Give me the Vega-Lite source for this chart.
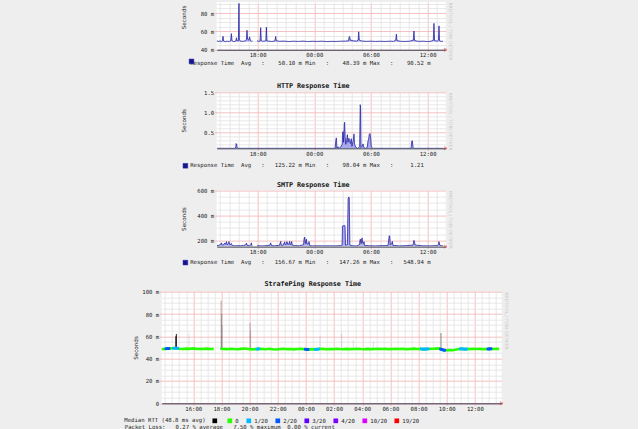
{
 "$schema": "https://vega.github.io/schema/vega-lite/v6.json",
 "background": "#eeeeee",
 "padding": {"left": 121.7, "top": 0, "right": 129, "bottom": 0},
 "spacing": 13.7,
 "resolve": {"scale": {"color": "independent", "opacity": "independent"}, "legend": {"color": "independent", "opacity": "independent"}},
 "config": {
  "view": {"stroke": null, "fill": "white"},
  "axis": {"labelFont": "DejaVu Sans Mono", "labelFontSize": 5.65, "labelColor": "#222", "titleFont": "DejaVu Sans", "titleFontSize": 5.65, "titleFontWeight": "normal", "titleColor": "#222", "gridWidth": 0.8, "labelFlush": false},
  "legend": {"labelFont": "DejaVu Sans Mono", "labelFontSize": 5.65, "titleFont": "DejaVu Sans Mono", "titleFontSize": 5.65},
  "title": {"font": "DejaVu Sans Mono", "fontSize": 6.7, "fontWeight": "bold", "color": "#111", "frame": "group", "anchor": "middle", "offset": 1}
 },
 "datasets": {
  "p1": [
   {"h":13.66,"v":49.6,"seg":1},{"h":13.85,"v":49.1,"seg":1},{"h":14.0,"v":49.5,"seg":1},{"h":14.2,"v":49.0,"seg":1},{"h":14.27,"v":50.0,"seg":1},{"h":14.33,"v":54.6,"seg":1},{"h":14.39,"v":49.5,"seg":1},{"h":14.6,"v":48.8,"seg":1},{"h":14.8,"v":49.3,"seg":1},{"h":15.0,"v":49.0,"seg":1},{"h":15.14,"v":49.7,"seg":1},{"h":15.22,"v":57.5,"seg":1},{"h":15.28,"v":50.0,"seg":1},{"h":15.45,"v":48.9,"seg":1},{"h":15.6,"v":49.1,"seg":1},{"h":15.7,"v":49.8,"seg":1},{"h":15.75,"v":53.0,"seg":1},{"h":15.82,"v":49.5,"seg":1},{"h":15.96,"v":50.0,"seg":1},{"h":16.0,"v":80.0,"seg":1},{"h":16.02,"v":90.5,"seg":1},{"h":16.06,"v":51.5,"seg":1},{"h":16.15,"v":49.5,"seg":1},{"h":16.3,"v":49.1,"seg":1},{"h":16.5,"v":49.3,"seg":1},{"h":16.7,"v":49.7,"seg":1},{"h":16.8,"v":50.5,"seg":1},{"h":16.87,"v":61.2,"seg":1},{"h":16.93,"v":51.5,"seg":1},{"h":17.05,"v":50.5,"seg":1},{"h":17.15,"v":54.0,"seg":1},{"h":17.22,"v":50.0,"seg":1},{"h":17.35,"v":49.3,"seg":1},{"h":17.44,"v":49.5,"seg":1},
   {"h":17.93,"v":49.7,"seg":2},{"h":18.1,"v":49.1,"seg":2},{"h":18.25,"v":49.5,"seg":2},{"h":18.32,"v":64.0,"seg":2},{"h":18.38,"v":49.8,"seg":2},{"h":18.55,"v":49.2,"seg":2},{"h":18.75,"v":49.5,"seg":2},{"h":18.86,"v":49.7,"seg":2},{"h":18.92,"v":64.5,"seg":2},{"h":18.98,"v":49.6,"seg":2},{"h":19.2,"v":49.3,"seg":2},{"h":19.5,"v":49.0,"seg":2},{"h":19.82,"v":49.5,"seg":2},{"h":19.91,"v":54.5,"seg":2},{"h":19.97,"v":49.8,"seg":2},{"h":20.3,"v":49.2,"seg":2},{"h":20.8,"v":49.4,"seg":2},{"h":21.3,"v":48.9,"seg":2},{"h":21.8,"v":49.3,"seg":2},{"h":22.3,"v":49.0,"seg":2},{"h":22.8,"v":49.4,"seg":2},{"h":23.3,"v":48.9,"seg":2},{"h":23.8,"v":49.2,"seg":2},{"h":24.3,"v":49.0,"seg":2},{"h":24.8,"v":49.3,"seg":2},{"h":25.3,"v":48.9,"seg":2},{"h":25.8,"v":49.1,"seg":2},{"h":26.3,"v":49.0,"seg":2},{"h":26.8,"v":49.3,"seg":2},{"h":27.3,"v":49.4,"seg":2},{"h":27.62,"v":49.7,"seg":2},{"h":27.68,"v":53.5,"seg":2},{"h":27.74,"v":54.5,"seg":2},{"h":27.8,"v":50.5,"seg":2},{"h":28.1,"v":49.7,"seg":2},{"h":28.5,"v":49.4,"seg":2},{"h":28.64,"v":50.5,"seg":2},{"h":28.7,"v":59.5,"seg":2},{"h":28.76,"v":50.5,"seg":2},{"h":29.0,"v":49.5,"seg":2},{"h":29.5,"v":49.1,"seg":2},{"h":30.0,"v":49.3,"seg":2},{"h":30.5,"v":49.0,"seg":2},{"h":31.0,"v":49.2,"seg":2},{"h":31.5,"v":49.0,"seg":2},{"h":32.0,"v":49.3,"seg":2},{"h":32.4,"v":49.1,"seg":2},{"h":32.62,"v":50.5,"seg":2},{"h":32.69,"v":57.0,"seg":2},{"h":32.75,"v":50.0,"seg":2},{"h":33.1,"v":49.2,"seg":2},{"h":33.6,"v":49.0,"seg":2},{"h":34.1,"v":49.3,"seg":2},{"h":34.48,"v":50.5,"seg":2},{"h":34.55,"v":60.4,"seg":2},{"h":34.61,"v":50.0,"seg":2},{"h":35.0,"v":49.1,"seg":2},{"h":35.5,"v":49.3,"seg":2},{"h":36.0,"v":48.9,"seg":2},{"h":36.35,"v":49.2,"seg":2},{"h":36.6,"v":50.5,"seg":2},{"h":36.67,"v":68.7,"seg":2},{"h":36.73,"v":50.0,"seg":2},{"h":37.0,"v":49.3,"seg":2},{"h":37.14,"v":50.5,"seg":2},{"h":37.2,"v":66.0,"seg":2},{"h":37.26,"v":49.7,"seg":2},{"h":37.45,"v":49.1,"seg":2},{"h":37.62,"v":49.3,"seg":2}
  ],
  "p2": [
   {"h":13.66,"v":0.1},{"h":15.6,"v":0.1},{"h":15.68,"v":0.13},{"h":15.72,"v":0.22},{"h":15.78,"v":0.2},{"h":15.82,"v":0.11},{"h":15.95,"v":0.1},{"h":26.2,"v":0.1},{"h":26.28,"v":0.3},{"h":26.33,"v":0.36},{"h":26.39,"v":0.1},{"h":26.5,"v":0.14},{"h":26.6,"v":0.1},{"h":26.75,"v":0.12},{"h":26.95,"v":0.2},{"h":27.0,"v":0.5},{"h":27.05,"v":0.52},{"h":27.1,"v":0.25},{"h":27.17,"v":0.7},{"h":27.21,"v":0.75},{"h":27.26,"v":0.4},{"h":27.33,"v":0.2},{"h":27.42,"v":0.3},{"h":27.5,"v":0.44},{"h":27.56,"v":0.25},{"h":27.66,"v":0.35},{"h":27.74,"v":0.3},{"h":27.82,"v":0.22},{"h":27.92,"v":0.34},{"h":27.98,"v":0.15},{"h":28.12,"v":0.3},{"h":28.2,"v":0.46},{"h":28.26,"v":0.2},{"h":28.4,"v":0.12},{"h":28.6,"v":0.1},{"h":28.8,"v":0.14},{"h":28.86,"v":1.19},{"h":28.9,"v":1.1},{"h":28.94,"v":0.12},{"h":29.05,"v":0.15},{"h":29.15,"v":0.21},{"h":29.25,"v":0.12},{"h":29.4,"v":0.1},{"h":29.6,"v":0.12},{"h":29.68,"v":0.28},{"h":29.75,"v":0.33},{"h":29.82,"v":0.45},{"h":29.89,"v":0.47},{"h":29.96,"v":0.38},{"h":30.03,"v":0.15},{"h":30.15,"v":0.1},{"h":34.25,"v":0.1},{"h":34.32,"v":0.28},{"h":34.38,"v":0.29},{"h":34.45,"v":0.12},{"h":34.55,"v":0.1},{"h":37.62,"v":0.1}
  ],
  "p3": [
   {"h":13.66,"v":158,"seg":1},{"h":13.9,"v":160,"seg":1},{"h":14.1,"v":170,"seg":1},{"h":14.16,"v":180,"seg":1},{"h":14.24,"v":162,"seg":1},{"h":14.4,"v":165,"seg":1},{"h":14.5,"v":178,"seg":1},{"h":14.6,"v":168,"seg":1},{"h":14.69,"v":190,"seg":1},{"h":14.78,"v":165,"seg":1},{"h":14.9,"v":175,"seg":1},{"h":14.96,"v":190,"seg":1},{"h":15.04,"v":165,"seg":1},{"h":15.15,"v":170,"seg":1},{"h":15.22,"v":175,"seg":1},{"h":15.3,"v":158,"seg":1},{"h":15.6,"v":156,"seg":1},{"h":15.9,"v":158,"seg":1},{"h":16.2,"v":157,"seg":1},{"h":16.5,"v":160,"seg":1},{"h":16.75,"v":165,"seg":1},{"h":16.82,"v":178,"seg":1},{"h":16.88,"v":160,"seg":1},{"h":17.1,"v":157,"seg":1},{"h":17.28,"v":165,"seg":1},{"h":17.33,"v":180,"seg":1},{"h":17.39,"v":158,"seg":1},{"h":17.44,"v":156,"seg":1},
   {"h":17.93,"v":157,"seg":2},{"h":18.5,"v":156,"seg":2},{"h":19.0,"v":158,"seg":2},{"h":19.3,"v":162,"seg":2},{"h":19.38,"v":180,"seg":2},{"h":19.45,"v":158,"seg":2},{"h":19.8,"v":157,"seg":2},{"h":20.3,"v":160,"seg":2},{"h":20.44,"v":192,"seg":2},{"h":20.5,"v":160,"seg":2},{"h":20.7,"v":162,"seg":2},{"h":20.86,"v":188,"seg":2},{"h":20.92,"v":165,"seg":2},{"h":21.02,"v":170,"seg":2},{"h":21.1,"v":190,"seg":2},{"h":21.18,"v":168,"seg":2},{"h":21.32,"v":172,"seg":2},{"h":21.39,"v":192,"seg":2},{"h":21.45,"v":165,"seg":2},{"h":21.55,"v":175,"seg":2},{"h":21.6,"v":190,"seg":2},{"h":21.66,"v":162,"seg":2},{"h":21.9,"v":158,"seg":2},{"h":22.4,"v":157,"seg":2},{"h":22.85,"v":165,"seg":2},{"h":22.93,"v":220,"seg":2},{"h":22.98,"v":227,"seg":2},{"h":23.05,"v":175,"seg":2},{"h":23.1,"v":190,"seg":2},{"h":23.16,"v":210,"seg":2},{"h":23.22,"v":170,"seg":2},{"h":23.38,"v":175,"seg":2},{"h":23.44,"v":190,"seg":2},{"h":23.5,"v":158,"seg":2},{"h":23.8,"v":156,"seg":2},{"h":24.4,"v":157,"seg":2},{"h":25.0,"v":156,"seg":2},{"h":25.6,"v":157,"seg":2},{"h":26.2,"v":156,"seg":2},{"h":26.8,"v":158,"seg":2},{"h":26.94,"v":162,"seg":2},{"h":26.98,"v":315,"seg":2},{"h":27.2,"v":320,"seg":2},{"h":27.25,"v":318,"seg":2},{"h":27.3,"v":162,"seg":2},{"h":27.5,"v":165,"seg":2},{"h":27.58,"v":535,"seg":2},{"h":27.64,"v":549,"seg":2},{"h":27.7,"v":540,"seg":2},{"h":27.76,"v":162,"seg":2},{"h":28.0,"v":157,"seg":2},{"h":28.5,"v":156,"seg":2},{"h":28.78,"v":165,"seg":2},{"h":28.84,"v":205,"seg":2},{"h":28.88,"v":210,"seg":2},{"h":28.95,"v":175,"seg":2},{"h":29.05,"v":220,"seg":2},{"h":29.12,"v":180,"seg":2},{"h":29.2,"v":175,"seg":2},{"h":29.26,"v":190,"seg":2},{"h":29.32,"v":160,"seg":2},{"h":29.8,"v":157,"seg":2},{"h":30.5,"v":156,"seg":2},{"h":31.2,"v":158,"seg":2},{"h":31.8,"v":158,"seg":2},{"h":31.93,"v":238,"seg":2},{"h":31.98,"v":235,"seg":2},{"h":32.05,"v":165,"seg":2},{"h":32.2,"v":175,"seg":2},{"h":32.26,"v":192,"seg":2},{"h":32.32,"v":160,"seg":2},{"h":33.0,"v":156,"seg":2},{"h":33.8,"v":158,"seg":2},{"h":34.45,"v":162,"seg":2},{"h":34.55,"v":200,"seg":2},{"h":34.6,"v":188,"seg":2},{"h":34.68,"v":162,"seg":2},{"h":35.4,"v":157,"seg":2},{"h":36.2,"v":156,"seg":2},{"h":37.0,"v":158,"seg":2},{"h":37.15,"v":165,"seg":2},{"h":37.2,"v":190,"seg":2},{"h":37.26,"v":162,"seg":2},{"h":37.5,"v":157,"seg":2},{"h":37.62,"v":156,"seg":2}
  ],
  "p4med": [
   {"h":13.77,"v":48.5,"seg":1},{"h":14.0,"v":48.8,"seg":1},{"h":14.25,"v":49.0,"seg":1},{"h":14.5,"v":49.3,"seg":1},{"h":14.75,"v":49.5,"seg":1},{"h":15.0,"v":48.9,"seg":1},{"h":15.25,"v":48.6,"seg":1},{"h":15.5,"v":49.0,"seg":1},{"h":15.75,"v":48.8,"seg":1},{"h":16.0,"v":49.2,"seg":1},{"h":16.25,"v":48.7,"seg":1},{"h":16.5,"v":48.9,"seg":1},{"h":16.75,"v":48.6,"seg":1},{"h":17.0,"v":49.0,"seg":1},{"h":17.25,"v":48.7,"seg":1},{"h":17.45,"v":48.8,"seg":1},
   {"h":17.92,"v":49.0,"seg":2},{"h":18.15,"v":48.7,"seg":2},{"h":18.4,"v":48.5,"seg":2},{"h":18.65,"v":48.9,"seg":2},{"h":18.9,"v":48.6,"seg":2},{"h":19.15,"v":48.4,"seg":2},{"h":19.4,"v":48.8,"seg":2},{"h":19.65,"v":49.1,"seg":2},{"h":19.9,"v":48.7,"seg":2},{"h":20.15,"v":48.3,"seg":2},{"h":20.4,"v":48.5,"seg":2},{"h":20.65,"v":48.8,"seg":2},{"h":20.9,"v":48.6,"seg":2},{"h":21.15,"v":48.4,"seg":2},{"h":21.4,"v":48.9,"seg":2},{"h":21.65,"v":48.5,"seg":2},{"h":21.9,"v":48.2,"seg":2},{"h":22.15,"v":48.6,"seg":2},{"h":22.4,"v":48.9,"seg":2},{"h":22.65,"v":48.5,"seg":2},{"h":22.9,"v":48.7,"seg":2},{"h":23.15,"v":48.3,"seg":2},{"h":23.4,"v":48.6,"seg":2},{"h":23.65,"v":48.8,"seg":2},{"h":23.9,"v":48.5,"seg":2},{"h":24.15,"v":48.2,"seg":2},{"h":24.4,"v":48.5,"seg":2},{"h":24.65,"v":48.3,"seg":2},{"h":24.9,"v":48.6,"seg":2},{"h":25.15,"v":48.8,"seg":2},{"h":25.4,"v":48.4,"seg":2},{"h":25.65,"v":48.7,"seg":2},{"h":25.9,"v":48.5,"seg":2},{"h":26.15,"v":48.9,"seg":2},{"h":26.4,"v":48.6,"seg":2},{"h":26.65,"v":48.4,"seg":2},{"h":26.9,"v":48.8,"seg":2},{"h":27.15,"v":48.5,"seg":2},{"h":27.4,"v":48.7,"seg":2},{"h":27.65,"v":48.9,"seg":2},{"h":27.9,"v":48.6,"seg":2},{"h":28.15,"v":48.4,"seg":2},{"h":28.4,"v":48.8,"seg":2},{"h":28.65,"v":48.5,"seg":2},{"h":28.9,"v":48.7,"seg":2},{"h":29.15,"v":48.9,"seg":2},{"h":29.4,"v":48.6,"seg":2},{"h":29.65,"v":48.8,"seg":2},{"h":29.9,"v":48.5,"seg":2},{"h":30.15,"v":48.7,"seg":2},{"h":30.4,"v":48.9,"seg":2},{"h":30.65,"v":48.6,"seg":2},{"h":30.9,"v":48.8,"seg":2},{"h":31.15,"v":48.5,"seg":2},{"h":31.4,"v":48.7,"seg":2},{"h":31.65,"v":49.0,"seg":2},{"h":31.9,"v":48.6,"seg":2},{"h":32.15,"v":48.8,"seg":2},{"h":32.4,"v":48.5,"seg":2},{"h":32.65,"v":48.7,"seg":2},{"h":32.9,"v":48.9,"seg":2},{"h":33.15,"v":49.0,"seg":2},{"h":33.4,"v":49.2,"seg":2},{"h":33.6,"v":48.4,"seg":2},{"h":33.8,"v":47.6,"seg":2},{"h":34.0,"v":47.5,"seg":2},{"h":34.2,"v":47.7,"seg":2},{"h":34.4,"v":47.6,"seg":2},{"h":34.6,"v":48.0,"seg":2},{"h":34.85,"v":48.6,"seg":2},{"h":35.1,"v":48.8,"seg":2},{"h":35.35,"v":48.5,"seg":2},{"h":35.6,"v":48.7,"seg":2},{"h":35.85,"v":48.9,"seg":2},{"h":36.1,"v":48.6,"seg":2},{"h":36.35,"v":48.8,"seg":2},{"h":36.6,"v":48.5,"seg":2},{"h":36.85,"v":48.6,"seg":2},{"h":37.1,"v":48.9,"seg":2},{"h":37.35,"v":48.7,"seg":2},{"h":37.55,"v":48.8,"seg":2},{"h":37.71,"v":48.6,"seg":2}
  ],
  "p4smoke": [
   {"h":14.76,"lo":49,"hi":60,"n":0.9},{"h":14.8,"lo":49,"hi":62,"n":1.0},{"h":15.7,"lo":49,"hi":63,"n":0.12},{"h":17.98,"lo":49,"hi":92,"n":0.35},{"h":18.02,"lo":49,"hi":80,"n":0.3},{"h":18.06,"lo":49,"hi":70,"n":0.2},{"h":20.03,"lo":49,"hi":72,"n":0.3},{"h":20.08,"lo":49,"hi":65,"n":0.2},{"h":25.0,"lo":49,"hi":60,"n":0.12},{"h":26.54,"lo":49,"hi":63,"n":0.15},{"h":27.36,"lo":49,"hi":57,"n":0.15},{"h":28.78,"lo":49,"hi":55,"n":0.15},{"h":33.59,"lo":49,"hi":63,"n":0.5}
  ],
  "p4loss": [
   {"h":14.06,"v":48.9,"loss":"2/20"},{"h":14.14,"v":48.95,"loss":"2/20"},{"h":14.22,"v":49.0,"loss":"2/20"},{"h":14.28,"v":49.1,"loss":"2/20"},
   {"h":14.6,"v":49.3,"loss":"1/20"},{"h":14.68,"v":49.4,"loss":"1/20"},{"h":14.76,"v":49.5,"loss":"1/20"},{"h":14.84,"v":49.4,"loss":"1/20"},{"h":14.9,"v":49.3,"loss":"1/20"},
   {"h":20.52,"v":48.6,"loss":"1/20"},{"h":20.6,"v":48.7,"loss":"1/20"},{"h":20.66,"v":48.8,"loss":"1/20"},
   {"h":23.95,"v":48.5,"loss":"2/20"},{"h":24.03,"v":48.4,"loss":"2/20"},{"h":24.11,"v":48.3,"loss":"2/20"},{"h":24.15,"v":48.2,"loss":"2/20"},
   {"h":24.66,"v":48.3,"loss":"1/20"},{"h":24.74,"v":48.4,"loss":"1/20"},{"h":24.82,"v":48.5,"loss":"1/20"},{"h":24.9,"v":48.6,"loss":"1/20"},
   {"h":32.2,"v":48.7,"loss":"1/20"},{"h":32.28,"v":48.6,"loss":"1/20"},{"h":32.36,"v":48.5,"loss":"1/20"},{"h":32.44,"v":48.6,"loss":"1/20"},{"h":32.52,"v":48.6,"loss":"1/20"},{"h":32.6,"v":48.7,"loss":"1/20"},{"h":32.68,"v":48.7,"loss":"1/20"},
   {"h":33.56,"v":48.6,"loss":"2/20"},{"h":33.64,"v":48.2,"loss":"2/20"},{"h":33.72,"v":47.9,"loss":"2/20"},{"h":33.8,"v":47.6,"loss":"2/20"},{"h":33.86,"v":47.6,"loss":"2/20"},
   {"h":34.96,"v":48.7,"loss":"1/20"},{"h":35.04,"v":48.8,"loss":"1/20"},{"h":35.12,"v":48.7,"loss":"1/20"},{"h":35.2,"v":48.6,"loss":"1/20"},{"h":35.28,"v":48.5,"loss":"1/20"},{"h":35.36,"v":48.6,"loss":"1/20"},{"h":35.4,"v":48.6,"loss":"1/20"},
   {"h":36.92,"v":48.6,"loss":"2/20"},{"h":37.0,"v":48.7,"loss":"2/20"},{"h":37.08,"v":48.8,"loss":"2/20"},{"h":37.14,"v":48.8,"loss":"2/20"}
  ]
 },
 "vconcat": [
 {
 "spacing": 10,
 "hconcat": [
  {"width": 8, "height": 1, "data": {"values": []}, "mark": "point", "view": {"fill": null, "stroke": null}},
  {
 "spacing": 11.3,
 "resolve": {"scale": {"color": "independent"}, "legend": {"color": "independent"}},
 "vconcat": [
  {
   "width": 229, "height": 47.7,
   "data": {"name": "p1"},
   "layer": [
    {"mark": {"type": "point", "opacity": 0},
     "encoding": {
      "x": {"field": "h", "type": "quantitative", "scale": {"domain": [13.66, 37.91], "nice": false, "zero": false},
            "axis": {"orient": "top", "values": [14,15,16,17,19,20,21,22,23,25,26,27,28,29,31,32,33,34,35,37], "grid": true, "gridColor": "#e2e2e2", "labels": false, "ticks": false, "domain": false, "title": null}},
      "y": {"field": "v", "type": "quantitative", "scale": {"domain": [40, 92], "nice": false, "zero": false},
            "axis": {"orient": "right", "values": [45,50,55,65,70,75,85,90], "grid": true, "gridColor": "#e2e2e2", "labels": false, "ticks": false, "domain": false, "title": "RRDTOOL / TOBI OETIKER", "titleFontSize": 4.5, "titleColor": "#c8c8c8", "titleAngle": 90, "titleX": 2, "titleY": 0, "titleAlign": "left", "titleBaseline": "bottom"}}
     }},
    {"mark": {"type": "area", "color": "#a8a8ec", "clip": true},
     "encoding": {"x": {"field": "h", "type": "quantitative", "axis": null}, "y": {"field": "v", "type": "quantitative", "axis": null}, "y2": {"datum": 49}, "detail": {"field": "seg"}}},
    {"mark": {"type": "line", "strokeWidth": 0.75, "clip": true},
     "encoding": {
      "x": {"field": "h", "type": "quantitative", "axis": {"orient": "bottom", "values": [18,24,30,36], "labelExpr": "(datum.value % 24 < 10 ? '0' : '') + (datum.value % 24) + ':00'", "grid": true, "gridColor": "#f2b4b4", "tickSize": 2, "tickColor": "#f2b4b4", "domainColor": "#3a3a50", "labelPadding": 1,
              "title": "Response\u00a0Time\u00a0\u00a0Avg\u00a0\u00a0\u00a0:\u00a0\u00a0\u00a0\u00a050.10\u00a0m\u00a0Min\u00a0\u00a0\u00a0:\u00a0\u00a0\u00a0\u00a048.39\u00a0m\u00a0Max\u00a0\u00a0\u00a0:\u00a0\u00a0\u00a0\u00a090.52\u00a0m", "titleFont": "DejaVu Sans Mono", "titleX": -27, "titleY": 13, "titleAlign": "left", "titleBaseline": "middle", "titleAnchor": "start"}},
      "y": {"field": "v", "type": "quantitative", "axis": {"orient": "left", "values": [40,60,80], "labelExpr": "datum.value + ' m'", "grid": true, "gridColor": "#f2b4b4", "tickSize": 2, "tickColor": "#f2b4b4", "domain": false, "labelPadding": 1, "minExtent": 37, "title": "Seconds", "titleX": -30, "titleY": 15}},
      "detail": {"field": "seg"},
      "color": {"datum": "Response Time", "type": "nominal", "scale": {"range": ["#1c1ca0"]},
                "legend": {"orient": "none", "legendX": -34.3, "legendY": 50.3, "direction": "horizontal", "title": null, "padding": 6.1, "symbolType": "square", "symbolSize": 22, "labelExpr": "''", "labelOffset": 0, "labelLimit": 0,
                           "encode": {"symbols": {"update": {"fill": {"value": "#15158f"}, "stroke": {"value": "#000"}, "strokeWidth": {"value": 0.5}, "opacity": {"value": 1}}}}}}
     }},
    {"data": {"values": [{}]},
     "mark": {"type": "point", "shape": "triangle-right", "filled": false, "color": "#e03030", "size": 10, "strokeWidth": 0.7},
     "encoding": {"x": {"datum": 37.91, "type": "quantitative", "axis": null}, "y": {"datum": 40, "type": "quantitative", "axis": null}}}
   ],
   "resolve": {"axis": {"x": "independent", "y": "independent"}}
  },
  {
   "title": {"text": "HTTP Response Time", "dx": -18, "offset": -0.8},
   "width": 229, "height": 56,
   "data": {"name": "p2"},
   "layer": [
    {"mark": {"type": "point", "opacity": 0},
     "encoding": {
      "x": {"field": "h", "type": "quantitative", "scale": {"domain": [13.66, 37.91], "nice": false, "zero": false},
            "axis": {"orient": "top", "values": [14,15,16,17,19,20,21,22,23,25,26,27,28,29,31,32,33,34,35,37], "grid": true, "gridColor": "#e2e2e2", "labels": false, "ticks": false, "domain": false, "title": null}},
      "y": {"field": "v", "type": "quantitative", "scale": {"domain": [0.1, 1.5], "nice": false, "zero": false},
            "axis": {"orient": "right", "values": [0.2,0.3,0.4,0.6,0.7,0.8,0.9,1.1,1.2,1.3,1.4], "grid": true, "gridColor": "#e2e2e2", "labels": false, "ticks": false, "domain": false, "title": "RRDTOOL / TOBI OETIKER", "titleFontSize": 4.5, "titleColor": "#c8c8c8", "titleAngle": 90, "titleX": 2, "titleY": 0, "titleAlign": "left", "titleBaseline": "bottom"}}
     }},
    {"mark": {"type": "area", "color": "#a8a8ec", "clip": true},
     "encoding": {"x": {"field": "h", "type": "quantitative", "axis": null}, "y": {"field": "v", "type": "quantitative", "axis": null}, "y2": {"datum": 0.1}}},
    {"mark": {"type": "line", "strokeWidth": 0.75, "clip": true},
     "encoding": {
      "x": {"field": "h", "type": "quantitative", "axis": {"orient": "bottom", "values": [18,24,30,36], "labelExpr": "(datum.value % 24 < 10 ? '0' : '') + (datum.value % 24) + ':00'", "grid": true, "gridColor": "#f2b4b4", "tickSize": 2, "tickColor": "#f2b4b4", "domainColor": "#3a3a50", "labelPadding": 1,
              "title": "Response\u00a0Time\u00a0\u00a0Avg\u00a0\u00a0\u00a0:\u00a0\u00a0\u00a0125.22\u00a0m\u00a0Min\u00a0\u00a0\u00a0:\u00a0\u00a0\u00a0\u00a098.04\u00a0m\u00a0Max\u00a0\u00a0\u00a0:\u00a0\u00a0\u00a0\u00a0\u00a01.21", "titleFont": "DejaVu Sans Mono", "titleX": -27, "titleY": 16, "titleAlign": "left", "titleBaseline": "middle", "titleAnchor": "start"}},
      "y": {"field": "v", "type": "quantitative", "axis": {"orient": "left", "values": [0.5,1.0,1.5], "format": ".1f", "grid": true, "gridColor": "#f2b4b4", "tickSize": 2, "tickColor": "#f2b4b4", "domain": false, "labelPadding": 1, "minExtent": 37, "title": "Seconds", "titleX": -30}},
      "color": {"datum": "Response Time", "type": "nominal", "scale": {"range": ["#1c1ca0"]},
                "legend": {"orient": "none", "legendX": -34.3, "legendY": 70.5, "direction": "horizontal", "title": null, "padding": 0, "symbolType": "square", "symbolSize": 22, "labelExpr": "''", "labelOffset": 0, "labelLimit": 0,
                           "encode": {"symbols": {"update": {"fill": {"value": "#15158f"}, "stroke": {"value": "#000"}, "strokeWidth": {"value": 0.5}, "opacity": {"value": 1}}}}}}
     }},
    {"data": {"values": [{}]},
     "mark": {"type": "point", "shape": "triangle-right", "filled": false, "color": "#e03030", "size": 10, "strokeWidth": 0.7},
     "encoding": {"x": {"datum": 37.91, "type": "quantitative", "axis": null}, "y": {"datum": 0.1, "type": "quantitative", "axis": null}}}
   ],
   "resolve": {"axis": {"x": "independent", "y": "independent"}}
  },
  {
   "title": {"text": "SMTP Response Time", "dx": -18, "offset": -1.5},
   "width": 229, "height": 56,
   "data": {"name": "p3"},
   "layer": [
    {"mark": {"type": "point", "opacity": 0},
     "encoding": {
      "x": {"field": "h", "type": "quantitative", "scale": {"domain": [13.66, 37.91], "nice": false, "zero": false},
            "axis": {"orient": "top", "values": [14,15,16,17,19,20,21,22,23,25,26,27,28,29,31,32,33,34,35,37], "grid": true, "gridColor": "#e2e2e2", "labels": false, "ticks": false, "domain": false, "title": null}},
      "y": {"field": "v", "type": "quantitative", "scale": {"domain": [150, 600], "nice": false, "zero": false},
            "axis": {"orient": "right", "values": [250,300,350,450,500,550], "grid": true, "gridColor": "#e2e2e2", "labels": false, "ticks": false, "domain": false, "title": "RRDTOOL / TOBI OETIKER", "titleFontSize": 4.5, "titleColor": "#c8c8c8", "titleAngle": 90, "titleX": 2, "titleY": 0, "titleAlign": "left", "titleBaseline": "bottom"}}
     }},
    {"mark": {"type": "area", "color": "#a8a8ec", "clip": true},
     "encoding": {"x": {"field": "h", "type": "quantitative", "axis": null}, "y": {"field": "v", "type": "quantitative", "axis": null}, "y2": {"datum": 156}, "detail": {"field": "seg"}}},
    {"mark": {"type": "line", "strokeWidth": 0.75, "clip": true},
     "encoding": {
      "x": {"field": "h", "type": "quantitative", "axis": {"orient": "bottom", "values": [18,24,30,36], "labelExpr": "(datum.value % 24 < 10 ? '0' : '') + (datum.value % 24) + ':00'", "grid": true, "gridColor": "#f2b4b4", "tickSize": 2, "tickColor": "#f2b4b4", "domainColor": "#3a3a50", "labelPadding": 1,
              "title": "Response\u00a0Time\u00a0\u00a0Avg\u00a0\u00a0\u00a0:\u00a0\u00a0\u00a0156.67\u00a0m\u00a0Min\u00a0\u00a0\u00a0:\u00a0\u00a0\u00a0147.26\u00a0m\u00a0Max\u00a0\u00a0\u00a0:\u00a0\u00a0\u00a0548.94\u00a0m", "titleFont": "DejaVu Sans Mono", "titleX": -27, "titleY": 15, "titleAlign": "left", "titleBaseline": "middle", "titleAnchor": "start"}},
      "y": {"field": "v", "type": "quantitative", "axis": {"orient": "left", "values": [200,400,600], "labelExpr": "datum.value + ' m'", "grid": true, "gridColor": "#f2b4b4", "tickSize": 2, "tickColor": "#f2b4b4", "domain": false, "labelPadding": 1, "minExtent": 37, "title": "Seconds", "titleX": -30}},
      "detail": {"field": "seg"},
      "color": {"datum": "Response Time", "type": "nominal", "scale": {"range": ["#1c1ca0"]},
                "legend": {"orient": "none", "legendX": -34.3, "legendY": 69, "direction": "horizontal", "title": null, "padding": 0, "symbolType": "square", "symbolSize": 22, "labelExpr": "''", "labelOffset": 0, "labelLimit": 0,
                           "encode": {"symbols": {"update": {"fill": {"value": "#15158f"}, "stroke": {"value": "#000"}, "strokeWidth": {"value": 0.5}, "opacity": {"value": 1}}}}}}
     }},
    {"data": {"values": [{}]},
     "mark": {"type": "point", "shape": "triangle-right", "filled": false, "color": "#e03030", "size": 10, "strokeWidth": 0.7},
     "encoding": {"x": {"datum": 37.91, "type": "quantitative", "axis": null}, "y": {"datum": 150, "type": "quantitative", "axis": null}}}
   ],
   "resolve": {"axis": {"x": "independent", "y": "independent"}}
  }
 ]
  }
 ]
 },
  {
   "title": {"text": "StrafePing Response Time", "dx": -19, "offset": 0.6},
   "width": 340, "height": 111.6,
   "layer": [
    {"data": {"name": "p4med"},
     "mark": {"type": "point", "opacity": 0},
     "encoding": {
      "x": {"field": "h", "type": "quantitative", "scale": {"domain": [13.76, 37.9], "nice": false, "zero": false},
            "axis": {"orient": "top", "values": [14,14.5,15,15.5,16.5,17,17.5,18.5,19,19.5,20.5,21,21.5,22.5,23,23.5,24.5,25,25.5,26.5,27,27.5,28.5,29,29.5,30.5,31,31.5,32.5,33,33.5,34.5,35,35.5,36.5,37,37.5], "grid": true, "gridColor": "#e2e2e2", "labels": false, "ticks": false, "domain": false, "title": null}},
      "y": {"field": "v", "type": "quantitative", "scale": {"domain": [0, 100], "nice": false, "zero": false},
            "axis": {"orient": "right", "values": [5,10,15,25,30,35,45,50,55,65,70,75,85,90,95], "grid": true, "gridColor": "#e2e2e2", "labels": false, "ticks": false, "domain": false, "title": "RRDTOOL / TOBI OETIKER", "titleFontSize": 4.5, "titleColor": "#c8c8c8", "titleAngle": 90, "titleX": 2, "titleY": 0, "titleAlign": "left", "titleBaseline": "bottom"}}
     }},
    {"data": {"name": "p4smoke"},
     "mark": {"type": "rule", "color": "#000", "strokeWidth": 1},
     "encoding": {"x": {"field": "h", "type": "quantitative", "axis": null}, "y": {"field": "lo", "type": "quantitative", "axis": null}, "y2": {"field": "hi"},
                  "opacity": {"field": "n", "type": "quantitative", "scale": {"domain": [0, 1], "range": [0, 0.9]}, "legend": null}}},
    {"data": {"name": "p4med"},
     "mark": {"type": "line", "color": "#26ff00", "strokeWidth": 2.6},
     "encoding": {
      "x": {"field": "h", "type": "quantitative", "axis": {"orient": "bottom", "values": [16,18,20,22,24,26,28,30,32,34,36], "labelExpr": "(datum.value % 24 < 10 ? '0' : '') + (datum.value % 24) + ':00'", "grid": true, "gridColor": "#f2b4b4", "tickSize": 2, "tickColor": "#f2b4b4", "domainColor": "#3a3a50", "labelPadding": 1,
              "title": "Packet\u00a0Loss:\u00a0\u00a0\u00a00.27\u00a0%\u00a0average\u00a0\u00a0\u00a07.50\u00a0%\u00a0maximum\u00a0\u00a00.00\u00a0%\u00a0current", "titleFont": "DejaVu Sans Mono", "titleX": -37.4, "titleY": 23.4, "titleAlign": "left", "titleBaseline": "middle", "titleAnchor": "start"}},
      "y": {"field": "v", "type": "quantitative", "axis": {"orient": "left", "values": [0,20,40,60,80,100], "labelExpr": "datum.value == 0 ? '0' : datum.value + ' m'", "grid": true, "gridColor": "#f2b4b4", "tickSize": 2, "tickColor": "#f2b4b4", "domain": false, "labelPadding": 1, "minExtent": 40, "title": "Seconds", "titleX": -23.4}},
      "detail": {"field": "seg"}
     }},
    {"data": {"name": "p4loss"},
     "mark": {"type": "point", "shape": "square", "filled": true, "size": 7, "opacity": 1},
     "encoding": {"x": {"field": "h", "type": "quantitative", "axis": null}, "y": {"field": "v", "type": "quantitative", "axis": null},
      "color": {"field": "loss", "type": "nominal",
                "scale": {"domain": ["median","0","1/20","2/20","3/20","4/20","10/20","19/20"], "range": ["#000000","#26ff00","#00b8ff","#0059ff","#5e00ff","#7e00ff","#dd00ff","#ff0000"]},
                "legend": {"orient": "none", "legendX": -37.4, "legendY": 125.2, "direction": "horizontal", "padding": 0,
                           "title": "Median RTT (48.8 ms avg)", "titleOrient": "left", "titleFont": "DejaVu Sans Mono", "titleFontSize": 5.65, "titleFontWeight": "normal", "titleColor": "#222", "titlePadding": 5,
                           "symbolType": "square", "symbolSize": 22, "labelFont": "DejaVu Sans Mono", "labelFontSize": 5.65, "labelColor": "#222", "labelOffset": 2, "labelLimit": 0, "columnPadding": 6,
                           "labelExpr": "datum.label == 'median' ? '' : datum.label",
                           "encode": {"symbols": {"update": {"stroke": {"value": "#000"}, "strokeWidth": {"value": 0.5}, "opacity": {"value": 1}}}}}}
     }},
    {"data": {"values": [{}]},
     "mark": {"type": "point", "shape": "triangle-right", "filled": false, "color": "#e03030", "size": 10, "strokeWidth": 0.7},
     "encoding": {"x": {"datum": 37.9, "type": "quantitative", "axis": null}, "y": {"datum": 0, "type": "quantitative", "axis": null}}}
   ],
   "resolve": {"axis": {"x": "independent", "y": "independent"}}
  }
 ]
}
